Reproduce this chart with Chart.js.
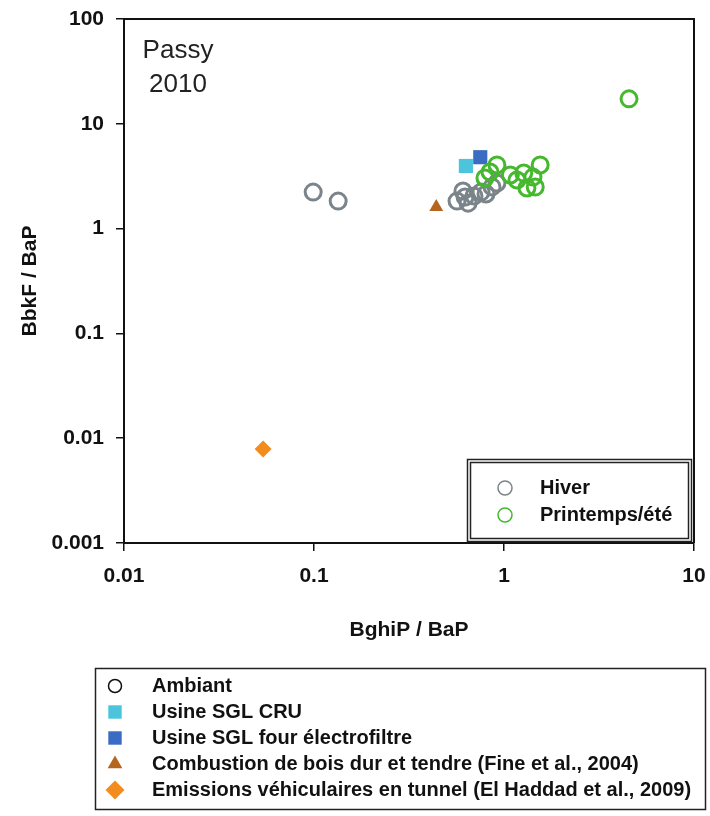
<!DOCTYPE html>
<html>
<head>
<meta charset="utf-8">
<script src="https://cdn.jsdelivr.net/npm/chart.js@4"></script>
<style>
  html, body { margin: 0; padding: 0; background: #fff; }
  #wrap { width: 710px; height: 816px; }
</style>
</head>
<body>
<div id="wrap"><canvas id="passyChart" width="710" height="816"></canvas></div>
<script>
// tick values
const xTicks = [0.01, 0.1, 1, 10];
const yTicks = [0.001, 0.01, 0.1, 1, 10, 100];

// ambient ratios, winter (BghiP/BaP, BbkF/BaP)
const hiverX = [0.099, 0.134, 0.566, 0.608, 0.647, 0.695, 0.757, 0.804, 0.865, 0.918, 0.624];
const hiverY = [2.23, 1.83, 1.83, 2.28, 1.75, 2.05, 2.23, 2.14, 2.50, 2.72, 2.00];

// ambient ratios, spring/summer
const eteX = [0.794, 0.844, 0.918, 1.08, 1.17, 1.27, 1.32, 1.46, 1.42, 1.55, 4.55];
const eteY = [3.04, 3.47, 4.05, 3.25, 2.91, 3.39, 2.44, 2.49, 3.10, 4.05, 17.3];

// source profiles
const sglCruX = [0.63], sglCruY = [3.96];
const sglFourX = [0.75], sglFourY = [4.8];
const boisX = [0.44], boisY = [1.61];
const tunnelX = [0.054], tunnelY = [0.0079];

const FONT = "'Liberation Sans', Arial, sans-serif";

function pts(xs, ys) {
  return xs.map((x, i) => ({ x: x, y: ys[i] }));
}

const legendPlugin = {
  id: "frameAndLegends",
  afterDraw(chart) {
    const ctx = chart.ctx;
    const a = chart.chartArea;
    const drawPoint = Chart.helpers.drawPoint;
    ctx.save();

    // top and right side of the plot frame
    ctx.strokeStyle = "#111";
    ctx.lineWidth = 2;
    ctx.beginPath();
    ctx.moveTo(a.left, a.top);
    ctx.lineTo(a.right, a.top);
    ctx.lineTo(a.right, a.bottom);
    ctx.stroke();

    // site label
    ctx.fillStyle = "#222";
    ctx.font = "26px " + FONT;
    ctx.textAlign = "center";
    ctx.textBaseline = "middle";
    ctx.fillText("Passy", 178, 51);
    ctx.fillText("2010", 178, 85);

    // inner legend (seasons)
    ctx.strokeStyle = "#222";
    ctx.lineWidth = 1.5;
    ctx.strokeRect(467.5, 459.5, 224, 82);
    ctx.strokeRect(470.5, 462.5, 218, 76);
    const ds = chart.data.datasets;
    const season = [ds[1], ds[0]];
    season.forEach((d, i) => {
      const y = 488 + i * 27;
      ctx.strokeStyle = d.borderColor;
      ctx.fillStyle = "rgba(0,0,0,0)";
      drawPoint(ctx, { pointStyle: "circle", radius: 7, rotation: 0, borderWidth: 3 }, 505, y);
      ctx.fillStyle = "#111";
      ctx.font = "bold 20px " + FONT;
      ctx.textAlign = "left";
      ctx.textBaseline = "middle";
      ctx.fillText(d.label, 540, y);
    });

    // bottom legend (sources)
    ctx.strokeStyle = "#222";
    ctx.lineWidth = 1.5;
    ctx.strokeRect(95.5, 668.5, 610, 141);
    const rows = [
      { label: "Ambiant", style: "circle", stroke: "#111", fill: "rgba(0,0,0,0)", r: 6.5, bw: 3 },
      { label: ds[2].label, style: "rect", stroke: ds[2].backgroundColor, fill: ds[2].backgroundColor, r: 9.5, bw: 0 },
      { label: ds[3].label, style: "rect", stroke: ds[3].backgroundColor, fill: ds[3].backgroundColor, r: 9.5, bw: 0 },
      { label: ds[4].label, style: "triangle", stroke: ds[4].backgroundColor, fill: ds[4].backgroundColor, r: 8.5, bw: 0 },
      { label: ds[5].label, style: "rectRot", stroke: ds[5].backgroundColor, fill: ds[5].backgroundColor, r: 9.5, bw: 0 }
    ];
    rows.forEach((r, i) => {
      const y = 686 + i * 26;
      ctx.strokeStyle = r.stroke;
      ctx.fillStyle = r.fill;
      drawPoint(ctx, { pointStyle: r.style, radius: r.r, rotation: 0, borderWidth: r.bw }, 115, y);
      ctx.fillStyle = "#111";
      ctx.font = "bold 20px " + FONT;
      ctx.textAlign = "left";
      ctx.textBaseline = "middle";
      ctx.fillText(r.label, 152, y);
    });

    ctx.restore();
  }
};

new Chart(document.getElementById("passyChart").getContext("2d"), {
  type: "scatter",
  data: {
    datasets: [
      {
        label: "Printemps/été",
        data: pts(eteX, eteY),
        pointStyle: "circle",
        pointRadius: 8,
        borderWidth: 3,
        borderColor: "#45b82e",
        backgroundColor: "rgba(0,0,0,0)",
        order: 1
      },
      {
        label: "Hiver",
        data: pts(hiverX, hiverY),
        pointStyle: "circle",
        pointRadius: 8,
        borderWidth: 3,
        borderColor: "#7a848a",
        backgroundColor: "rgba(0,0,0,0)",
        order: 2
      },
      {
        label: "Usine SGL CRU",
        data: pts(sglCruX, sglCruY),
        pointStyle: "rect",
        pointRadius: 10,
        borderWidth: 0,
        backgroundColor: "#4cc4dc",
        order: 3
      },
      {
        label: "Usine SGL four électrofiltre",
        data: pts(sglFourX, sglFourY),
        pointStyle: "rect",
        pointRadius: 10,
        borderWidth: 0,
        backgroundColor: "#3b6cc4",
        order: 3
      },
      {
        label: "Combustion de bois dur et tendre (Fine et al., 2004)",
        data: pts(boisX, boisY),
        pointStyle: "triangle",
        pointRadius: 8,
        borderWidth: 0,
        backgroundColor: "#b5651d",
        order: 3
      },
      {
        label: "Emissions véhiculaires en tunnel (El Haddad et al., 2009)",
        data: pts(tunnelX, tunnelY),
        pointStyle: "rectRot",
        pointRadius: 8.5,
        borderWidth: 0,
        backgroundColor: "#f28c1e",
        order: 3
      }
    ]
  },
  options: {
    responsive: false,
    animation: false,
    devicePixelRatio: 1,
    layout: { padding: { left: 0, right: 16, top: 19, bottom: 173 } },
    plugins: {
      legend: { display: false },
      tooltip: { enabled: false }
    },
    scales: {
      x: {
        type: "logarithmic",
        min: 0.01,
        max: 10,
        afterBuildTicks: axis => { axis.ticks = xTicks.map(v => ({ value: v })); },
        afterFit: axis => {
          axis.height = 100;
          axis.paddingLeft = 0;
          axis.paddingRight = 0;
        },
        ticks: {
          color: "#111",
          font: { family: FONT, size: 21, weight: "bold" },
          padding: 13,
          maxRotation: 0,
          callback: v => String(v)
        },
        grid: { drawOnChartArea: false, drawTicks: true, tickLength: 8, color: "#111", lineWidth: 1.5 },
        border: { color: "#111", width: 2 },
        title: {
          display: true,
          text: "BghiP / BaP",
          color: "#111",
          font: { family: FONT, size: 21, weight: "bold" },
          padding: { top: 10, bottom: 0 }
        }
      },
      y: {
        type: "logarithmic",
        min: 0.001,
        max: 100,
        afterBuildTicks: axis => { axis.ticks = yTicks.map(v => ({ value: v })); },
        afterFit: axis => {
          axis.width = 124;
          axis.paddingTop = 0;
          axis.paddingBottom = 0;
        },
        ticks: {
          color: "#111",
          font: { family: FONT, size: 21, weight: "bold" },
          padding: 12,
          callback: v => String(v)
        },
        grid: { drawOnChartArea: false, drawTicks: true, tickLength: 8, color: "#111", lineWidth: 1.5 },
        border: { color: "#111", width: 2 },
        title: {
          display: true,
          text: "BbkF / BaP",
          color: "#111",
          font: { family: FONT, size: 21, weight: "bold" },
          padding: { top: 18, bottom: 0 }
        }
      }
    }
  },
  plugins: [legendPlugin]
});
</script>
</body>
</html>
